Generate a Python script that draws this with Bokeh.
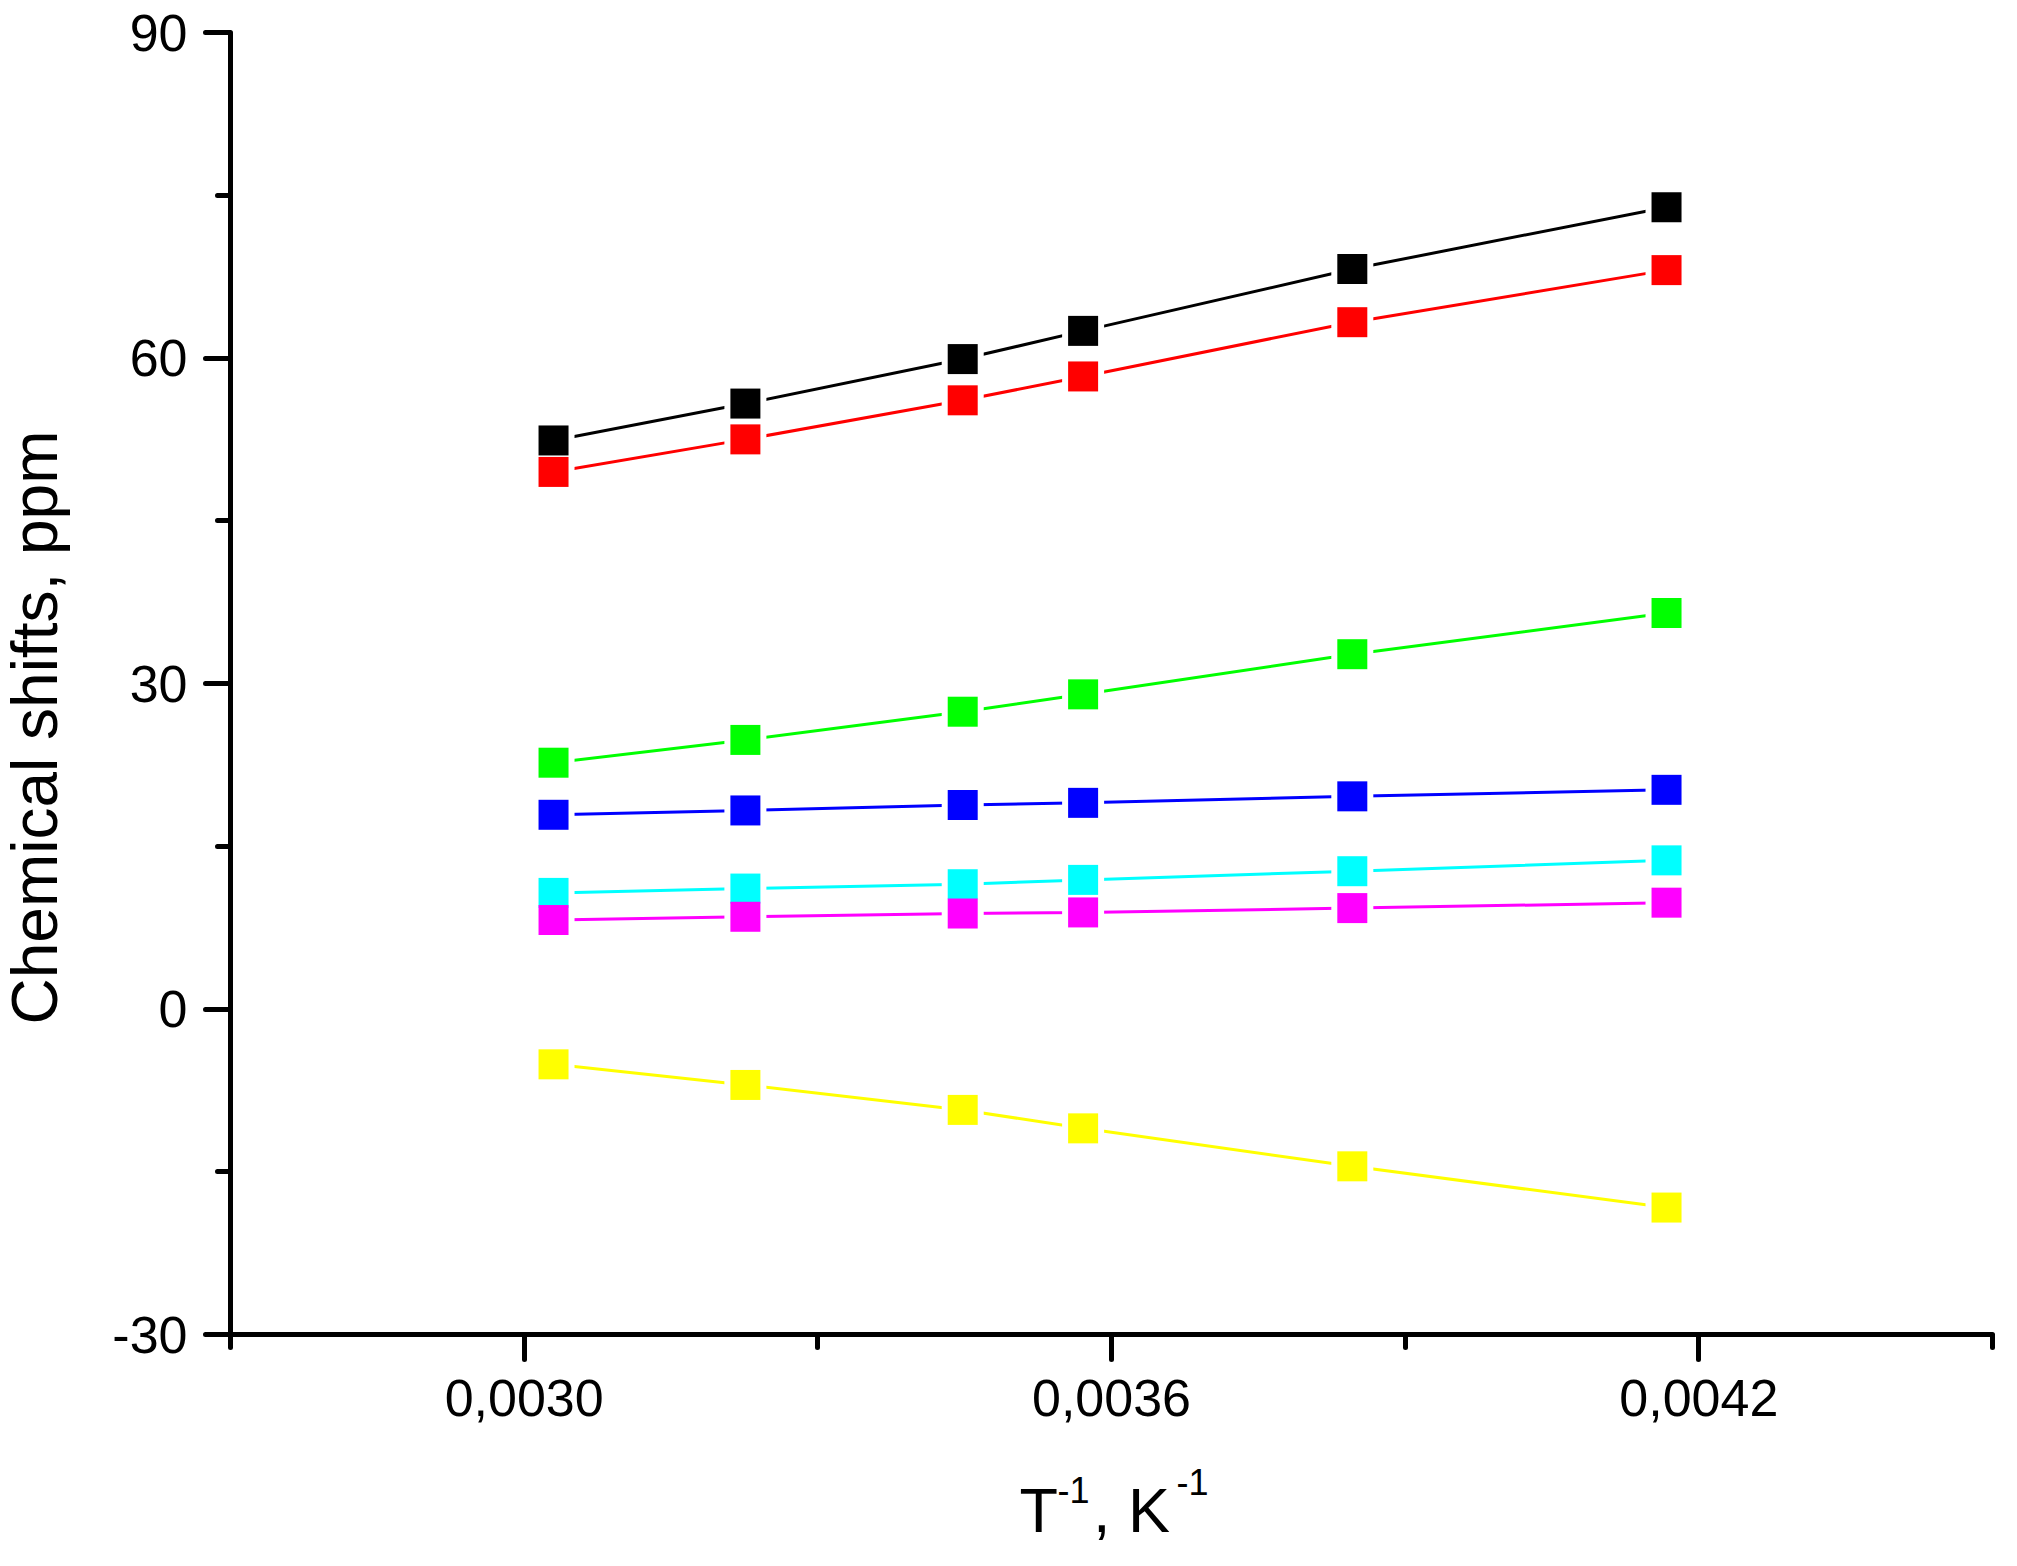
import math
from bokeh.plotting import figure
from bokeh.models import Range1d, FixedTicker, CustomJSTickFormatter, Label
from bokeh.embed import file_html
from bokeh.resources import INLINE

# ---- data ----
inv_T = [0.003030, 0.003226, 0.003448, 0.003571, 0.003846, 0.004167]

series_black = [52.4, 55.8, 59.9, 62.5, 68.2, 73.9]
series_red = [49.5, 52.5, 56.1, 58.3, 63.3, 68.1]
series_green = [22.7, 24.8, 27.4, 29.0, 32.7, 36.5]
series_blue = [17.9, 18.3, 18.8, 19.0, 19.6, 20.2]
series_cyan = [10.7, 11.1, 11.5, 11.9, 12.7, 13.7]
series_magenta = [8.2, 8.5, 8.8, 8.9, 9.3, 9.8]
series_yellow = [-5.1, -7.0, -9.3, -11.0, -14.5, -18.3]

x_major_ticks = [0.0030, 0.0036, 0.0042]
x_minor_ticks = [0.0027, 0.0033, 0.0039, 0.0045]
y_major_ticks = [-30, 0, 30, 60, 90]
y_minor_ticks = [-15, 15, 45, 75]

y_title = "Chemical shifts, ppm"
x_title_main = "T\u00a0\u00a0, K"
x_title_sup = "-1"

series = [
    (series_black, "#000000"),
    (series_red, "#FF0000"),
    (series_green, "#00FF00"),
    (series_blue, "#0000FF"),
    (series_cyan, "#00FFFF"),
    (series_magenta, "#FF00FF"),
    (series_yellow, "#FFFF00"),
]

FONT = "Liberation Sans"
W, H = 2001, 1550

p = figure(width=W, height=H, output_backend="svg", toolbar_location=None,
           x_range=Range1d(0.0027, 0.0045), y_range=Range1d(-30, 90),
           min_border_left=230, min_border_right=9, min_border_top=32,
           min_border_bottom=216)
p.outline_line_color = None
p.xgrid.visible = False
p.ygrid.visible = False
p.background_fill_color = "white"
p.border_fill_color = "white"

for ax in (p.xaxis[0], p.yaxis[0]):
    ax.axis_line_width = 5
    ax.axis_line_color = "black"
    ax.major_tick_line_width = 5
    ax.minor_tick_line_width = 5
    ax.major_tick_line_cap = "round"
    ax.minor_tick_line_cap = "round"
    ax.major_tick_in = 0
    ax.major_tick_out = 25
    ax.minor_tick_in = 0
    ax.minor_tick_out = 13
    ax.major_label_text_font = FONT
    ax.major_label_text_font_size = "52px"
    ax.major_label_text_color = "black"

p.xaxis[0].ticker = FixedTicker(ticks=x_major_ticks, minor_ticks=x_minor_ticks)
p.yaxis[0].ticker = FixedTicker(ticks=y_major_ticks, minor_ticks=y_minor_ticks)
p.xaxis[0].formatter = CustomJSTickFormatter(code="return tick.toFixed(4).replace('.', ',');")
p.yaxis[0].formatter = CustomJSTickFormatter(code="return tick.toFixed(0);")
p.xaxis[0].major_label_standoff = 20
p.yaxis[0].major_label_standoff = 18

# lines
for ys, col in series:
    p.line(inv_T, ys, line_color=col, line_width=3)
# white halos to make the gaps around the markers
for ys, col in series:
    p.scatter(inv_T, ys, marker="square", size=42, fill_color="white", line_color=None)
# markers
for ys, col in series:
    p.scatter(inv_T, ys, marker="square", size=30, fill_color=col, line_color=None)

# y axis title in the left side panel
p.add_layout(Label(x=-3, y=607, x_units="screen", y_units="screen",
                   text=y_title, angle=math.pi / 2,
                   text_align="center", text_baseline="alphabetic",
                   text_font=FONT, text_font_size="64px", text_color="black"), "left")
# first superscript of the x title (hosted by the left panel, which has room)
p.add_layout(Label(x=1052, y=-155, x_units="screen", y_units="screen", text=x_title_sup,
                   text_font=FONT, text_font_size="36px", text_baseline="alphabetic",
                   text_color="black"), "left")

# x axis title (main part) in the bottom side panel
p.add_layout(Label(x=789, y=-21, x_units="screen", y_units="screen", text=x_title_main,
                   text_font=FONT, text_font_size="63px", text_baseline="alphabetic",
                   text_color="black"), "below")
# second superscript of the x title
p.add_layout(Label(x=946, y=33, x_units="screen", y_units="screen", text=x_title_sup,
                   text_font=FONT, text_font_size="36px", text_baseline="alphabetic",
                   text_color="black"), "below")

open("out.html", "w").write(file_html(p, INLINE))
